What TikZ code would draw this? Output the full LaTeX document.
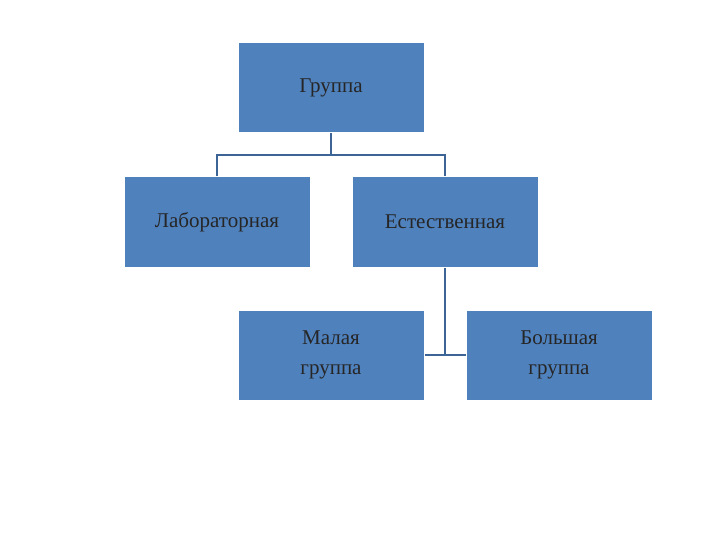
\documentclass[tikz,border=0pt]{standalone}
\usepackage{fontspec}
\setmainfont{Liberation Serif}
\definecolor{boxblue}{RGB}{79,129,189}
\definecolor{linec}{RGB}{60,100,150}
\begin{document}
\begin{tikzpicture}[x=1pt,y=-1pt,
  bx/.style={fill=boxblue,draw=white,line width=1pt,minimum width=186pt,minimum height=90pt,inner sep=0pt,font=\fontsize{21}{30}\selectfont,align=center,text=black!85},
  cn/.style={draw=linec,line width=1.2pt}]
\useasboundingbox (0,0) rectangle (720,540);
\node[bx] (g) at (331,88) {Группа};
\node[bx] (l) at (217,222) {Лабораторная};
\node[bx] (e) at (445,222) {Естественная};
\node[bx] (m) at (331,355) {Малая\\группа};
\node[bx] (b) at (559,355) {Большая\\группа};
\coordinate (j) at (331,155);
\coordinate (k) at (445,355);
\draw[cn] (g.south) -- (j);
\draw[cn] (l.north) |- (j) -| (e.north);
\draw[cn] (e.south) -- (k);
\draw[cn] (m.east) -- (b.west);
\end{tikzpicture}
\end{document}
